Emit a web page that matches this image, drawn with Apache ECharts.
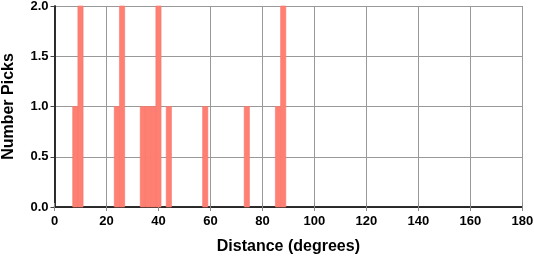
<!DOCTYPE html>
<html><head><meta charset="utf-8">
<script src="https://cdn.jsdelivr.net/npm/echarts@6/dist/echarts.min.js"></script>
<style>html,body{margin:0;padding:0;background:#fff}#c{width:534px;height:258px}</style>
</head><body><div id="c"></div>
<script>
// Histogram data: bin start (degrees), bin width 2 degrees, and counts
const binStarts = [7, 9, 23, 25, 33, 35, 37, 39, 43, 57, 73, 85, 87];
const binWidth = 2;
const counts = [1, 2, 1, 2, 1, 1, 1, 2, 1, 1, 1, 1, 2];
const xTicks = [0, 20, 40, 60, 80, 100, 120, 140, 160, 180];
const yTicks = ['0.0', '0.5', '1.0', '1.5', '2.0'];

const data = binStarts.map((s, i) => [s, s + binWidth, counts[i]]);
const FONT = '"Liberation Sans", Arial, sans-serif';
const axisLine = {show: true, lineStyle: {color: '#222', width: 1.5}};
const axisTick = {show: true, length: 4, lineStyle: {color: '#888', width: 1}};

const chart = echarts.init(document.getElementById('c'), null, {renderer: 'canvas'});
chart.setOption({
  animation: false,
  grid: {left: 54.5, right: 11.7, top: 6, bottom: 51, containLabel: false, outerBoundsMode: 'none'},
  xAxis: [{
    type: 'value', min: 0, max: 180, interval: 20, position: 'bottom',
    axisLine, axisTick,
    axisLabel: {color: '#000', fontFamily: FONT, fontWeight: 'bold', fontSize: 13, margin: 8},
    splitLine: {show: true, lineStyle: {color: '#999', width: 1}},
    name: 'Distance (degrees)', nameLocation: 'middle', nameGap: 32,
    nameTextStyle: {color: '#000', fontFamily: FONT, fontWeight: 'bold', fontSize: 16}
  }, {
    type: 'value', min: 0, max: 180, interval: 20, position: 'top',
    axisLine, axisTick, axisLabel: {show: false}, splitLine: {show: false}
  }],
  yAxis: [{
    type: 'value', min: 0, max: 2, interval: 0.5, position: 'left',
    axisLine, axisTick: {show: true, length: 4, lineStyle: {color: '#444', width: 1}},
    axisLabel: {color: '#000', fontFamily: FONT, fontWeight: 'bold', fontSize: 13, margin: 6,
      formatter: v => yTicks[Math.round(v / 0.5)]},
    splitLine: {show: true, lineStyle: {color: '#999', width: 1}},
    name: 'Number Picks', nameLocation: 'middle', nameGap: 38,
    nameTextStyle: {color: '#000', fontFamily: FONT, fontWeight: 'bold', fontSize: 16}
  }, {
    type: 'value', min: 0, max: 2, interval: 0.5, position: 'right',
    axisLine, axisTick: {show: false}, axisLabel: {show: false}, splitLine: {show: false}
  }],
  series: [{
    type: 'custom',
    xAxisIndex: 0, yAxisIndex: 0,
    data: data,
    renderItem: function (params, api) {
      const p0 = api.coord([api.value(0), 0]);
      const p1 = api.coord([api.value(1), api.value(2)]);
      return {
        type: 'rect',
        shape: {x: p0[0], y: p1[1], width: p1[0] - p0[0], height: p0[1] - p1[1]},
        style: {fill: '#FF8073', stroke: '#F5766A', lineWidth: 0.6}
      };
    },
    z: 3
  }]
});
</script></body></html>
